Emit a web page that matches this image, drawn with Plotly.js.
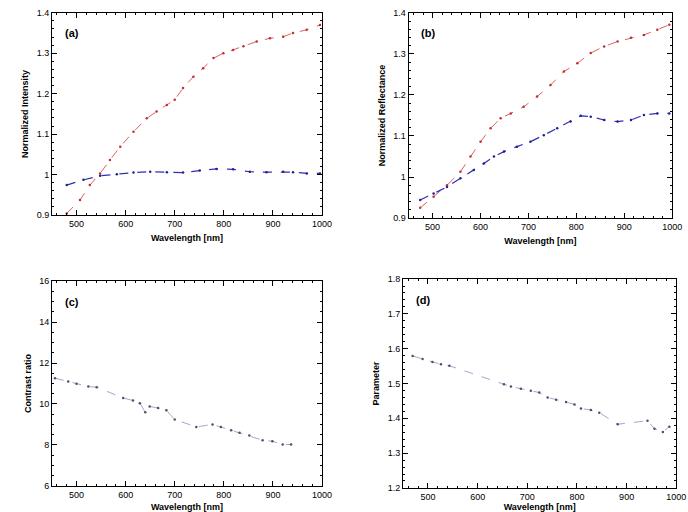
<!DOCTYPE html>
<html>
<head>
<meta charset="utf-8">
<script src="https://cdn.plot.ly/plotly-3.0.1.min.js"></script>
<style>html,body{margin:0;padding:0;background:#fff}#plot{width:688px;height:512px}</style>
</head>
<body>
<div id="plot"></div>
<script>
// Panel (a)
const waveA_red = [480,507,527,548,568,589,616,643,663,684,700,717,738,758,779,799,819,840,867,894,921,941,969,996];
const valA_red  = [0.904,0.937,0.974,1.003,1.036,1.069,1.106,1.139,1.156,1.172,1.185,1.214,1.242,1.263,1.288,1.300,1.308,1.317,1.329,1.337,1.341,1.350,1.358,1.370];
const waveA_blue = [480,514,548,582,616,650,684,717,751,785,819,853,887,921,941,969,996];
const valA_blue  = [0.974,0.987,0.997,1.001,1.005,1.007,1.006,1.005,1.010,1.014,1.013,1.007,1.006,1.007,1.006,1.003,1.003];
// Panel (b)
const waveB_red = [474,502,530,558,579,600,621,642,663,690,718,746,774,802,830,858,886,914,941,969,994];
const valB_red  = [0.925,0.952,0.980,1.013,1.050,1.086,1.119,1.143,1.155,1.171,1.196,1.224,1.257,1.277,1.302,1.318,1.330,1.339,1.346,1.359,1.371];
const waveB_blue = [474,502,530,558,586,607,628,649,676,704,732,760,788,809,830,858,886,914,941,969,994];
const valB_blue  = [0.944,0.960,0.976,0.997,1.017,1.033,1.050,1.062,1.074,1.086,1.102,1.119,1.135,1.149,1.147,1.139,1.135,1.139,1.151,1.155,1.155];
// Panel (c)
const waveC = [456,483,500,524,541,595,615,629,640,649,666,683,700,744,777,794,815,832,852,879,899,920,937];
const valC  = [11.26,11.10,10.99,10.85,10.82,10.29,10.17,10.04,9.59,9.88,9.80,9.69,9.24,8.88,9.00,8.87,8.72,8.59,8.46,8.23,8.18,8.02,8.02];
// Panel (d)
const waveD = [469,489,509,526,543,653,667,687,707,724,741,758,778,795,808,828,845,882,942,956,973,986];
const valD  = [1.579,1.570,1.562,1.555,1.551,1.498,1.491,1.485,1.479,1.474,1.460,1.453,1.447,1.440,1.428,1.424,1.416,1.383,1.393,1.370,1.361,1.376];

const xTickVals = [500,600,700,800,900,1000];
const xTitle = 'Wavelength [nm]';
const yTitles = ['Normalized Intensity','Normalized Reflectance','Contrast ratio','Parameter'];
const panelLabels = ['(a)','(b)','(c)','(d)'];

const F = 'Liberation Sans, Arial, sans-serif';
function ax(domain, range, dtick, anchor, title, extra) {
  return Object.assign({
    domain: domain, range: range, anchor: anchor, dtick: dtick,
    showline: true, linecolor: '#000', linewidth: 1, mirror: 'allticks',
    ticks: 'inside', ticklen: 5, tickcolor: '#000', tickwidth: 1,
    minor: {ticks: 'inside', ticklen: 2, tickcolor: '#000', nticks: 5},
    showgrid: false, zeroline: false,
    tickfont: {family: F, size: 9, color: '#000'},
    title: {text: title, font: {family: F, size: 9, color: '#000', weight: 'bold'}, standoff: 6}
  }, extra || {});
}

const traces = [
  {x: waveA_red, y: valA_red, xaxis: 'x', yaxis: 'y', mode: 'lines+markers',
   line: {color: '#e06060', width: 1, dash: 'dash'}, marker: {size: 2.5, color: '#c03030'}},
  {x: waveA_blue, y: valA_blue, xaxis: 'x', yaxis: 'y', mode: 'lines+markers',
   line: {color: '#3030b0', width: 1.2, dash: 'dash'}, marker: {size: 2.5, color: '#202090'}},
  {x: waveB_red, y: valB_red, xaxis: 'x2', yaxis: 'y2', mode: 'lines+markers',
   line: {color: '#e06060', width: 1, dash: 'dash'}, marker: {size: 2.5, color: '#c03030'}},
  {x: waveB_blue, y: valB_blue, xaxis: 'x2', yaxis: 'y2', mode: 'lines+markers',
   line: {color: '#3030b0', width: 1.2, dash: 'dash'}, marker: {size: 2.5, color: '#202090'}},
  {x: waveC, y: valC, xaxis: 'x3', yaxis: 'y3', mode: 'lines+markers',
   line: {color: '#a0a8d0', width: 1, dash: 'dash'}, marker: {size: 2.5, color: '#505060'}},
  {x: waveD, y: valD, xaxis: 'x4', yaxis: 'y4', mode: 'lines+markers',
   line: {color: '#a0a8d0', width: 1, dash: 'dash'}, marker: {size: 2.5, color: '#505060'}}
];

const xr = [450, 1000];
const layout = {
  width: 688, height: 512, showlegend: false,
  paper_bgcolor: '#fff', plot_bgcolor: '#fff',
  margin: {l: 0, r: 0, t: 0, b: 0},
  font: {family: F, size: 9, color: '#000'},
  xaxis:  ax([0.0756, 0.468], xr, 100, 'y', xTitle),
  yaxis:  ax([0.580, 0.975], [0.9, 1.4], 0.1, 'x', yTitles[0]),
  xaxis2: ax([0.594, 0.977], xr, 100, 'y2', xTitle),
  yaxis2: ax([0.574, 0.975], [0.9, 1.4], 0.1, 'x2', yTitles[1]),
  xaxis3: ax([0.0756, 0.468], xr, 100, 'y3', xTitle),
  yaxis3: ax([0.051, 0.451], [6, 16], 2, 'x3', yTitles[2]),
  xaxis4: ax([0.586, 0.983], xr, 100, 'y4', xTitle),
  yaxis4: ax([0.047, 0.455], [1.2, 1.8], 0.1, 'x4', yTitles[3]),
  annotations: panelLabels.map((t, i) => {
    const s = i === 0 ? '' : String(i + 1);
    return {text: '<b>' + t + '</b>', xref: 'x' + s + ' domain', yref: 'y' + s + ' domain',
      x: 0.04, y: 0.90, xanchor: 'left', yanchor: 'middle', showarrow: false,
      font: {family: F, size: 11, color: '#000'}};
  })
};

Plotly.newPlot('plot', traces, layout, {staticPlot: true});
</script>
</body>
</html>
